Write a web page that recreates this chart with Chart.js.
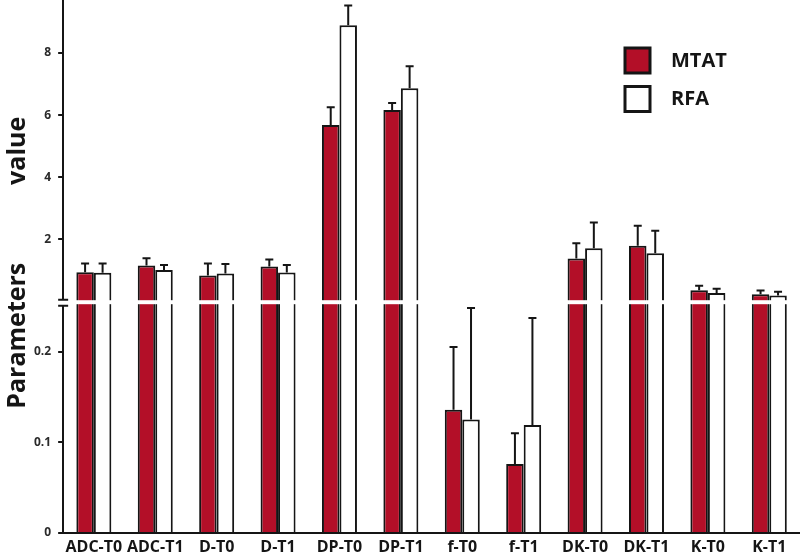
<!DOCTYPE html>
<html>
<head>
<meta charset="utf-8">
<title>MTAT vs RFA parameters</title>
<script src="https://cdn.jsdelivr.net/npm/chart.js@4.4.1/dist/chart.umd.min.js"></script>
<style>
  html, body { margin: 0; padding: 0; background: #fff; overflow: hidden; }
  #wrap { width: 800px; height: 559px; position: relative; }
</style>
</head>
<body>
<div id="wrap"><canvas id="chart"></canvas></div>
<script>
// categories on the x axis
const categories = ['ADC-T0', 'ADC-T1', 'D-T0', 'D-T1', 'DP-T0', 'DP-T1', 'f-T0', 'f-T1', 'DK-T0', 'DK-T1', 'K-T0', 'K-T1'];
// these two are drawn on the lower (small) axis
const lowerCategories = ['f-T0', 'f-T1'];

// mean and SD
const mtatMean = [0.95, 1.16, 0.84, 1.13, 5.68, 6.16, 0.136, 0.076, 1.39, 1.80, 0.37, 0.24];
const mtatSd   = [0.28, 0.24, 0.39, 0.23, 0.57, 0.23, 0.069, 0.034, 0.49, 0.64, 0.14, 0.12];
const rfaMean  = [0.93, 1.02, 0.91, 0.94, 8.89, 6.86, 0.125, 0.119, 1.72, 1.56, 0.28, 0.20];
const rfaSd    = [0.30, 0.16, 0.30, 0.24, 0.63, 0.71, 0.123, 0.118, 0.83, 0.72, 0.14, 0.12];

// tick labels of the broken axis
const upperTicks = [2, 4, 6, 8];
const lowerTicks = [0, 0.1, 0.2];
const upperMax = 9.7;
const lowerMax = 0.255;

const FONT = "'Open Sans', 'DejaVu Sans', sans-serif";
const RED = '#b30f28';
const INK = '#151515';

const isLower = categories.map(c => lowerCategories.includes(c));
// upper panel: nothing for the small parameters
const upperPart = means => means.map((v, i) => isLower[i] ? null : v);
// lower panel: big parameters fill the panel up to the break
const lowerPart = means => means.map((v, i) => isLower[i] ? v : lowerMax);

function barSet(label, color, means, sds, panel) {
	return {
		label: label,
		data: panel === 'upper' ? upperPart(means) : lowerPart(means),
		means: means,
		sds: sds,
		panel: panel,
		yAxisID: panel === 'upper' ? 'yTop' : 'yBot',
		stack: label, // keeps the two panels of one series in the same slot
		backgroundColor: color,
		borderColor: INK,
		borderWidth: 2,
		borderSkipped: 'start',
		categoryPercentage: 0.57,
		barPercentage: 1.0
	};
}

// draws the SD whiskers (upward only)
const errorBars = {
	id: 'errorBars',
	afterDatasetsDraw(chart) {
		const ctx = chart.ctx;
		ctx.save();
		ctx.strokeStyle = INK;
		ctx.lineWidth = 2;
		chart.data.datasets.forEach((ds, di) => {
			const meta = chart.getDatasetMeta(di);
			const scale = chart.scales[ds.yAxisID];
			meta.data.forEach((bar, i) => {
				const own = ds.panel === 'upper' ? !isLower[i] : isLower[i];
				if (!own) return;
				const yTop = scale.getPixelForValue(ds.means[i] + ds.sds[i]);
				ctx.beginPath();
				ctx.moveTo(bar.x, bar.y);
				ctx.lineTo(bar.x, yTop);
				ctx.moveTo(bar.x - 4, yTop);
				ctx.lineTo(bar.x + 4, yTop);
				ctx.stroke();
			});
		});
		ctx.restore();
	}
};

// white gap across the bars and the axis where the scale is broken
const axisBreak = {
	id: 'axisBreak',
	afterDraw(chart) {
		const ctx = chart.ctx;
		const area = chart.chartArea;
		const cut = chart.scales.yTop.bottom;
		ctx.save();
		ctx.fillStyle = '#fff';
		ctx.fillRect(area.left + 1, cut - 1.5, area.right - area.left, 4);
		ctx.fillRect(area.left - 6, cut - 2, 12, 6);
		ctx.strokeStyle = INK;
		ctx.lineWidth = 2;
		ctx.beginPath();
		ctx.moveTo(area.left - 5, cut - 2);
		ctx.lineTo(area.left + 5, cut - 2);
		ctx.moveTo(area.left - 5, cut + 4);
		ctx.lineTo(area.left + 5, cut + 4);
		ctx.stroke();
		ctx.restore();
	}
};

// "Parameters value" split over the two panels, and the legend boxes
const decorations = {
	id: 'decorations',
	afterDraw(chart) {
		const ctx = chart.ctx;
		const area = chart.chartArea;
		const top = chart.scales.yTop;
		const bot = chart.scales.yBot;
		ctx.save();
		ctx.fillStyle = INK;
		ctx.font = 'bold 25px ' + FONT;
		ctx.textAlign = 'center';
		ctx.textBaseline = 'alphabetic';
		ctx.translate(25, (top.top + top.bottom) / 2);
		ctx.rotate(-Math.PI / 2);
		ctx.fillText('value', 0, 0);
		ctx.restore();

		ctx.save();
		ctx.fillStyle = INK;
		ctx.font = 'bold 25px ' + FONT;
		ctx.textAlign = 'center';
		ctx.textBaseline = 'alphabetic';
		ctx.translate(25, bot.top + 34);
		ctx.rotate(-Math.PI / 2);
		ctx.fillText('Parameters', 0, 0);
		ctx.restore();

		// legend
		const series = chart.data.datasets.filter(ds => ds.panel === 'upper');
		ctx.save();
		series.forEach((ds, k) => {
			const x = area.right - 175;
			const y = area.top + 48 + k * 38.5;
			ctx.fillStyle = ds.backgroundColor;
			ctx.fillRect(x, y, 25, 25);
			ctx.strokeStyle = INK;
			ctx.lineWidth = 3;
			ctx.strokeRect(x, y, 25, 25);
			ctx.fillStyle = INK;
			ctx.font = 'bold 20px ' + FONT;
			ctx.textAlign = 'left';
			ctx.textBaseline = 'middle';
			ctx.fillText(ds.label, x + 46, y + 13);
		});
		ctx.restore();
	}
};

const tickFont = { family: FONT, size: 12, weight: 'bold' };
const noPad = s => { s.paddingTop = 0; s.paddingBottom = 0; };

new Chart(document.getElementById('chart'), {
	type: 'bar',
	data: {
		labels: categories,
		datasets: [
			barSet('MTAT', RED, mtatMean, mtatSd, 'upper'),
			barSet('RFA', '#ffffff', rfaMean, rfaSd, 'upper'),
			barSet('MTAT', RED, mtatMean, mtatSd, 'lower'),
			barSet('RFA', '#ffffff', rfaMean, rfaSd, 'lower')
		]
	},
	options: {
		responsive: true,
		maintainAspectRatio: false,
		animation: false,
		layout: { padding: { left: 27, top: 0, right: 0, bottom: 0 } },
		plugins: {
			legend: { display: false },
			tooltip: { enabled: false }
		},
		scales: {
			x: {
				grid: { display: false, drawTicks: false },
				border: { display: true, color: INK, width: 2 },
				afterFit: s => { s.height = 26; s.paddingLeft = 0; s.paddingRight = 0; },
				ticks: {
					color: INK,
					font: { family: FONT, size: 16, weight: 'bold' },
					padding: 5,
					maxRotation: 0,
					autoSkip: false
				}
			},
			// the lower panel is listed first: Chart.js stacks later axes above
			yBot: {
				type: 'linear',
				position: 'left',
				stack: 'value',
				stackWeight: 230,
				min: 0,
				max: lowerMax,
				afterBuildTicks: s => { s.ticks = lowerTicks.map(v => ({ value: v })); },
				afterFit: noPad,
				grid: { drawOnChartArea: false, color: INK, lineWidth: 2, tickLength: 5 },
				border: { display: true, color: INK, width: 2 },
				ticks: { color: '#2a2a2a', font: tickFont, padding: 7 }
			},
			yTop: {
				type: 'linear',
				position: 'left',
				stack: 'value',
				stackWeight: 300,
				min: 0,
				max: upperMax,
				afterBuildTicks: s => { s.ticks = upperTicks.map(v => ({ value: v })); },
				afterFit: noPad,
				grid: { drawOnChartArea: false, color: INK, lineWidth: 2, tickLength: 5 },
				border: { display: true, color: INK, width: 2 },
				ticks: { color: '#2a2a2a', font: tickFont, padding: 7 }
			}
		}
	},
	plugins: [errorBars, axisBreak, decorations]
});
</script>
</body>
</html>
